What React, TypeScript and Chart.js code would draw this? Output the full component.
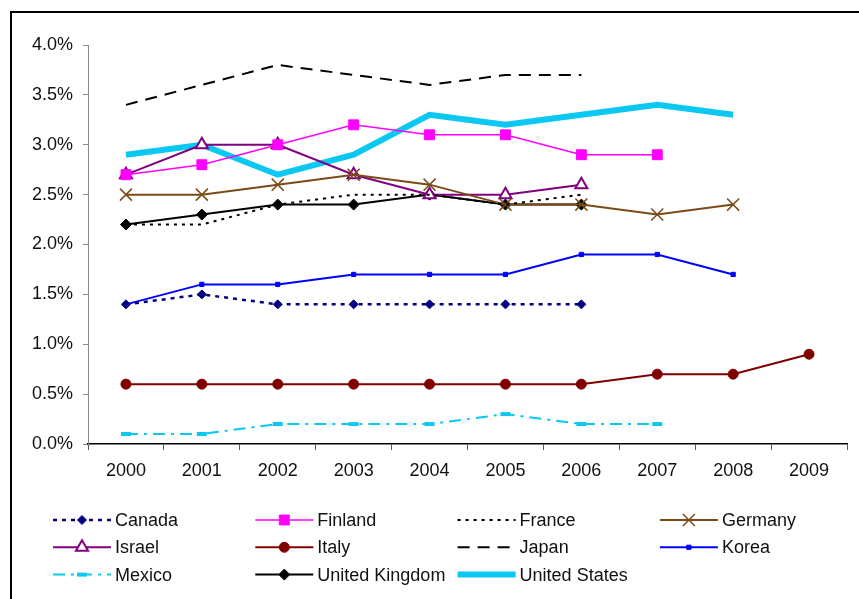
import React, { useEffect, useRef } from "react";
import { Chart, registerables } from "chart.js";
import { drawPoint } from "chart.js/helpers";

Chart.register(...registerables);

const years = ["2000", "2001", "2002", "2003", "2004", "2005", "2006", "2007", "2008", "2009"];

const canada = [1.4, 1.5, 1.4, 1.4, 1.4, 1.4, 1.4, null, null, null];
const finland = [2.7, 2.8, 3.0, 3.2, 3.1, 3.1, 2.9, 2.9, null, null];
const france = [2.2, 2.2, 2.4, 2.5, 2.5, 2.4, 2.5, null, null, null];
const germany = [2.5, 2.5, 2.6, 2.7, 2.6, 2.4, 2.4, 2.3, 2.4, null];
const israel = [2.7, 3.0, 3.0, 2.7, 2.5, 2.5, 2.6, null, null, null];
const italy = [0.6, 0.6, 0.6, 0.6, 0.6, 0.6, 0.6, 0.7, 0.7, 0.9];
const japan = [3.4, 3.6, 3.8, 3.7, 3.6, 3.7, 3.7, null, null, null];
const korea = [1.4, 1.6, 1.6, 1.7, 1.7, 1.7, 1.9, 1.9, 1.7, null];
const mexico = [0.1, 0.1, 0.2, 0.2, 0.2, 0.3, 0.2, 0.2, null, null];
const unitedKingdom = [2.2, 2.3, 2.4, 2.4, 2.5, 2.4, 2.4, null, null, null];
const unitedStates = [2.9, 3.0, 2.7, 2.9, 3.3, 3.2, 3.3, 3.4, 3.3, null];

const yTicks = [0, 0.5, 1.0, 1.5, 2.0, 2.5, 3.0, 3.5, 4.0];

const FONT = "'Liberation Sans', Arial, sans-serif";
const CYAN = "#0AC8F2";

function ds(label: string, data: (number | null)[], o: any) {
  return {
    label,
    data,
    borderColor: o.color,
    borderWidth: o.width ?? 2,
    borderDash: o.dash ?? [],
    pointStyle: o.style ?? "circle",
    pointRadius: o.radius ?? 0,
    pointBorderWidth: o.pbw ?? 1,
    pointBackgroundColor: o.fill ?? o.color,
    pointBorderColor: o.color,
    pointHoverRadius: o.radius ?? 0,
    tension: 0,
    spanGaps: false,
    fill: false,
  };
}

const legendPlugin = {
  id: "gridLegend",
  afterDraw(chart: any) {
    const ctx = chart.ctx;
    const list = chart.data.datasets;
    ctx.save();
    list.forEach((d: any, i: number) => {
      const col = i % 4;
      const row = Math.floor(i / 4);
      const x0 = 53 + col * 202.3;
      const y = 520 + row * 27.3;
      ctx.save();
      ctx.strokeStyle = d.borderColor;
      ctx.lineWidth = d.borderWidth;
      ctx.setLineDash(d.borderDash || []);
      ctx.lineCap = "butt";
      ctx.beginPath();
      ctx.moveTo(x0, y);
      ctx.lineTo(x0 + 58, y);
      ctx.stroke();
      ctx.setLineDash([]);
      if (d.pointRadius > 0) {
        ctx.fillStyle = d.pointBackgroundColor;
        ctx.strokeStyle = d.pointBorderColor;
        ctx.lineWidth = d.pointBorderWidth;
        drawPoint(ctx, { pointStyle: d.pointStyle, radius: d.pointRadius, borderWidth: d.pointBorderWidth, rotation: 0 } as any, x0 + 29, y);
      }
      ctx.restore();
      ctx.fillStyle = "#111";
      ctx.font = `18px ${FONT}`;
      ctx.textBaseline = "middle";
      ctx.textAlign = "left";
      ctx.fillText(d.label, x0 + 62, y + 1);
    });
    ctx.restore();
  },
};

export default function App() {
  const ref = useRef<HTMLCanvasElement | null>(null);
  useEffect(() => {
    if (!ref.current) return;
    const chart = new Chart(ref.current, {
      type: "line",
      data: {
        labels: years,
        datasets: [
          ds("Canada", canada, { color: "#000080", dash: [4, 5], width: 2.5, style: "rectRot", radius: 4.5 }),
          ds("Finland", finland, { color: "#FF00FF", width: 1.5, style: "rect", radius: 7 }),
          ds("France", france, { color: "#000000", dash: [3, 5], width: 2 }),
          ds("Germany", germany, { color: "#7A4B17", width: 2, style: "crossRot", radius: 8.5, pbw: 1.5 }),
          ds("Israel", israel, { color: "#800080", width: 2, style: "triangle", radius: 7, pbw: 2, fill: "#ffffff" }),
          ds("Italy", italy, { color: "#800000", width: 2, style: "circle", radius: 5 }),
          ds("Japan", japan, { color: "#000000", dash: [12, 8], width: 2 }),
          ds("Korea", korea, { color: "#0000FF", width: 2, style: "rect", radius: 3 }),
          ds("Mexico", mexico, { color: CYAN, dash: [12, 6, 3, 6], width: 2, style: "line", radius: 5, pbw: 4 }),
          ds("United Kingdom", unitedKingdom, { color: "#000000", width: 2, style: "rectRot", radius: 5.5 }),
          ds("United States", unitedStates, { color: CYAN, width: 6 }),
        ],
      },
      options: {
        responsive: false,
        animation: false,
        events: [],
        layout: { padding: { left: 28, top: 45, right: 12, bottom: 0 } },
        plugins: { legend: { display: false }, tooltip: { enabled: false } },
        scales: {
          x: {
            type: "category",
            offset: true,
            grid: { offset: true, drawOnChartArea: false, drawTicks: true, tickLength: 6, color: "#555" },
            border: { color: "#000", width: 1.5 },
            ticks: { color: "#111", font: { family: FONT, size: 18 }, padding: 10, maxRotation: 0, autoSkip: false },
            afterFit: (s: any) => {
              s.height = 155;
            },
          },
          y: {
            min: 0,
            max: 4,
            afterBuildTicks: (s: any) => {
              s.ticks = yTicks.map((v) => ({ value: v }));
            },
            ticks: {
              color: "#111",
              font: { family: FONT, size: 18 },
              padding: 10,
              callback: (v: any) => Number(v).toFixed(1) + "%",
            },
            grid: { drawOnChartArea: false, drawTicks: true, tickLength: 5, color: "#888" },
            border: { color: "#888", width: 1 },
            afterFit: (s: any) => {
              s.width = 60;
            },
          },
        },
      },
      plugins: [legendPlugin],
    });
    return () => chart.destroy();
  }, []);

  return (
    <div style={{ position: "fixed", left: 0, top: 0, width: 859, height: 599, overflow: "hidden", background: "#fff" }}>
      <canvas ref={ref} width={859} height={599} style={{ position: "absolute", left: 0, top: 0, width: 859, height: 599 }} />
      <div
        style={{
          position: "absolute",
          left: 10,
          top: 11,
          width: 900,
          height: 700,
          border: "2px solid #000",
          pointerEvents: "none",
        }}
      />
    </div>
  );
}
